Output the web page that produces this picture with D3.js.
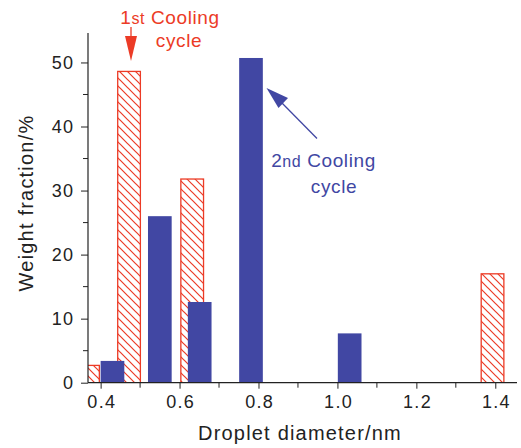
<!DOCTYPE html>
<html>
<head>
<meta charset="utf-8">
<script src="https://cdn.jsdelivr.net/npm/d3@7"></script>
<style>
  html, body { margin: 0; padding: 0; background: #fff; }
  svg { display: block; font-family: "Liberation Sans", Arial, Helvetica, sans-serif; }
</style>
</head>
<body>
<svg id="chart" width="521" height="448"></svg>
<script>
// Droplet size distributions after the two cooling cycles (bar centre in nm, weight %)
const firstCycleDiameter = [0.368, 0.472, 0.632, 1.393];
const firstCycleWeight   = [2.7, 48.6, 31.8, 17.0];
const secondCycleDiameter = [0.430, 0.550, 0.651, 0.781, 1.031];
const secondCycleWeight   = [3.4, 26.0, 12.6, 50.7, 7.7];
const xTicks = [0.4, 0.6, 0.8, 1.0, 1.2, 1.4];
const xMinorTicks = [0.5, 0.7, 0.9, 1.1, 1.3];
const yTicks = [0, 10, 20, 30, 40, 50];
const yMinorTicks = [5, 15, 25, 35, 45];
const barWidth = 0.06;

const red = "#ec3b26";
const blue = "#4147a3";
const ink = "#222";

const svg = d3.select("#chart");
const x = d3.scaleLinear().domain([0.368, 1.455]).range([88, 517]);
const y = d3.scaleLinear().domain([0, 54.6]).range([382.7, 33]);

// diagonal hatch for the first cycle
const defs = svg.append("defs");
const pat = defs.append("pattern")
  .attr("id", "hatch").attr("patternUnits", "userSpaceOnUse")
  .attr("width", 8).attr("height", 8);
pat.append("rect").attr("width", 8).attr("height", 8).attr("fill", "#fff");
pat.append("path")
  .attr("d", "M-1,-1 L9,9 M-5,3 L5,13 M3,-5 L13,5")
  .attr("stroke", red).attr("stroke-width", 1.2);
defs.append("clipPath").attr("id", "plot")
  .append("rect").attr("x", x.range()[0]).attr("y", 0)
  .attr("width", x.range()[1] - x.range()[0]).attr("height", y.range()[0]);

const bars = svg.append("g").attr("clip-path", "url(#plot)");

bars.selectAll("rect.first")
  .data(d3.zip(firstCycleDiameter, firstCycleWeight))
  .join("rect").attr("class", "first")
  .attr("x", d => x(d[0] - barWidth / 2) + 0.5)
  .attr("width", d => x(d[0] + barWidth / 2) - x(d[0] - barWidth / 2) - 1)
  .attr("y", d => y(d[1]))
  .attr("height", d => y(0) - y(d[1]))
  .attr("fill", "url(#hatch)")
  .attr("stroke", red).attr("stroke-width", 1.3);

bars.selectAll("rect.second")
  .data(d3.zip(secondCycleDiameter, secondCycleWeight))
  .join("rect").attr("class", "second")
  .attr("x", d => x(d[0] - barWidth / 2))
  .attr("width", d => x(d[0] + barWidth / 2) - x(d[0] - barWidth / 2))
  .attr("y", d => y(d[1]))
  .attr("height", d => y(0) - y(d[1]))
  .attr("fill", blue);

// axes
const gx = svg.append("g").attr("transform", `translate(0,${y(0)})`)
  .call(d3.axisBottom(x).tickValues(xTicks).tickFormat(d3.format(".1f")).tickSize(6).tickPadding(7));
gx.append("g").selectAll("line").data(xMinorTicks).join("line")
  .attr("x1", d => x(d)).attr("x2", d => x(d)).attr("y1", 0).attr("y2", 5)
  .attr("stroke", ink);

const gy = svg.append("g").attr("transform", `translate(${x.range()[0]},0)`)
  .call(d3.axisLeft(y).tickValues(yTicks).tickSize(7).tickPadding(8));
gy.append("g").selectAll("line").data(yMinorTicks).join("line")
  .attr("x1", 0).attr("x2", -5).attr("y1", d => y(d)).attr("y2", d => y(d))
  .attr("stroke", ink);

[gx, gy].forEach(g => {
  g.select(".domain").attr("stroke", ink).attr("stroke-width", 1.2);
  g.selectAll(".tick line").attr("stroke", ink);
  g.selectAll("text").attr("font-size", 18).attr("fill", ink)
    .attr("letter-spacing", 1.3)
    .attr("font-family", "Liberation Sans, Arial, sans-serif");
});
gx.selectAll(".tick text").attr("dx", 0.65);
gy.selectAll(".tick text").attr("dx", 1.3);
gx.select(".domain").attr("d", `M${x.range()[0]},0H${x.range()[1]}`);
gy.select(".domain").attr("d", `M0,${y.range()[0]}V${y.range()[1]}`);

// axis titles
svg.append("text").attr("x", 300).attr("y", 440).attr("text-anchor", "middle")
  .attr("font-size", 20).attr("letter-spacing", 1.2).attr("fill", ink).text("Droplet diameter/nm");
svg.append("text").attr("transform", "translate(33,203) rotate(-90)")
  .attr("text-anchor", "middle").attr("font-size", 20).attr("letter-spacing", 1.2).attr("fill", ink)
  .text("Weight fraction/%");

// annotation: first cycle
const a1 = svg.append("g").attr("fill", red).attr("letter-spacing", 0.6);
const t1 = a1.append("text").attr("x", 170).attr("y", 24).attr("text-anchor", "middle").attr("font-size", 19);
t1.append("tspan").text("1");
t1.append("tspan").attr("font-size", 16).text("st");
t1.append("tspan").text(" Cooling");
a1.append("text").attr("x", 179).attr("y", 47).attr("text-anchor", "middle").attr("font-size", 19).text("cycle");
a1.append("line").attr("x1", 131).attr("x2", 131).attr("y1", 27).attr("y2", 40)
  .attr("stroke", red).attr("stroke-width", 1.3);
a1.append("path").attr("d", "M125,36 L137,36 L131,61 Z");

// annotation: second cycle
const a2 = svg.append("g").attr("fill", blue).attr("letter-spacing", 0.6);
const t2 = a2.append("text").attr("x", 323.5).attr("y", 167).attr("text-anchor", "middle").attr("font-size", 19);
t2.append("tspan").text("2");
t2.append("tspan").attr("font-size", 16).text("nd");
t2.append("tspan").text(" Cooling");
a2.append("text").attr("x", 334).attr("y", 193).attr("text-anchor", "middle").attr("font-size", 19).text("cycle");
a2.append("line").attr("x1", 317).attr("y1", 138.5).attr("x2", 280).attr("y2", 101)
  .attr("stroke", blue).attr("stroke-width", 1.3);
a2.append("path").attr("d", "M266.5,88 L288,98 L278.5,108 Z");
</script>
</body>
</html>
